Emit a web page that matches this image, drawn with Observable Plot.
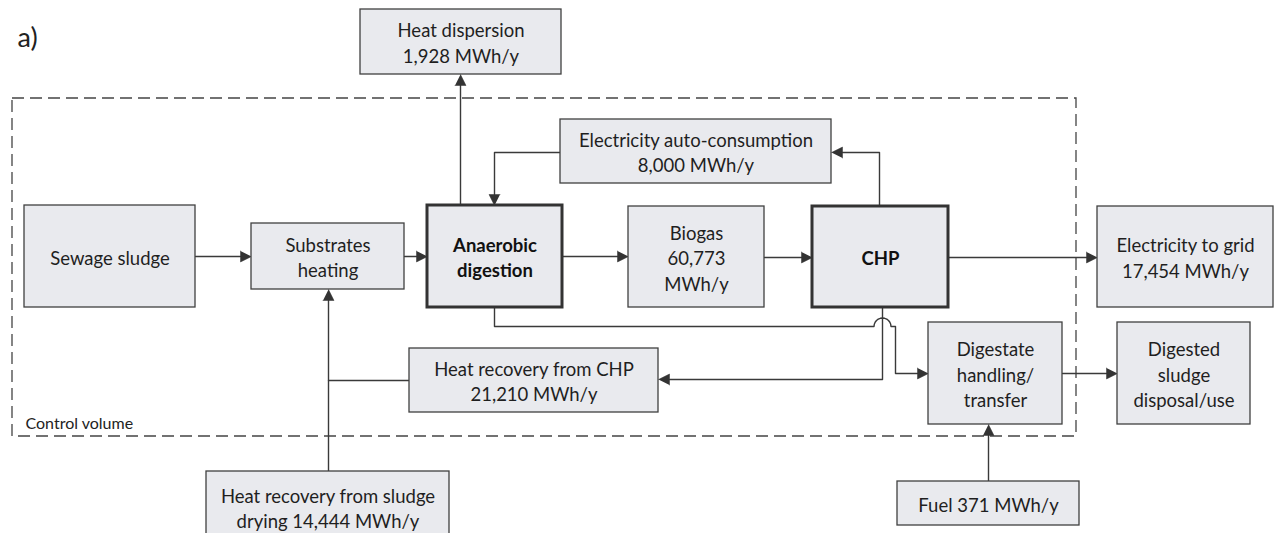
<!DOCTYPE html>
<html>
<head>
<meta charset="utf-8">
<script src="https://cdn.jsdelivr.net/npm/d3@7"></script>
<script src="https://cdn.jsdelivr.net/npm/@observablehq/plot@0.6"></script>
<style>
  html, body { margin: 0; padding: 0; background: #fff; }
  #chart svg { display: block; }
</style>
</head>
<body>
<div id="chart"></div>
<script>
// ---- Data ----
const panelLabel = "a)";
const boundaryLabel = "Control volume";
const flowNames = ["Heat dispersion", "Electricity auto-consumption", "Biogas", "Electricity to grid",
                   "Heat recovery from CHP", "Heat recovery from sludge drying", "Fuel"];
const flowValues = [1928, 8000, 60773, 17454, 21210, 14444, 371];
const unit = "MWh/y";
const processNames = ["Sewage sludge", "Substrates heating", "Anaerobic digestion", "CHP",
                      "Digestate handling/transfer", "Digested sludge disposal/use"];

const fmt = d3.format(",");
const v = name => fmt(flowValues[flowNames.indexOf(name)]) + " " + unit;

// ---- Diagram layout (pixel frame of the figure) ----
const nodes = [
  {id: "disp",  text: "Heat dispersion\n" + v("Heat dispersion"), x1: 360, x2: 561, y1: 9, y2: 74},
  {id: "auto",  text: "Electricity auto-consumption\n" + v("Electricity auto-consumption"), x1: 560, x2: 831, y1: 119, y2: 183},
  {id: "sew",   text: processNames[0], x1: 24, x2: 195, y1: 205, y2: 307},
  {id: "subs",  text: "Substrates\nheating", x1: 251, x2: 404, y1: 223, y2: 289},
  {id: "ad",    text: "Anaerobic\ndigestion", x1: 427, x2: 562, y1: 205, y2: 307, bold: true},
  {id: "bio",   text: "Biogas\n" + fmt(flowValues[2]) + "\n" + unit, x1: 628, x2: 764, y1: 206, y2: 307},
  {id: "chp",   text: processNames[3], x1: 812, x2: 948, y1: 206, y2: 307, bold: true},
  {id: "grid",  text: "Electricity to grid\n" + v("Electricity to grid"), x1: 1097, x2: 1273, y1: 206, y2: 307},
  {id: "dig",   text: "Digestate\nhandling/\ntransfer", x1: 928, x2: 1062, y1: 322, y2: 424},
  {id: "out",   text: "Digested\nsludge\ndisposal/use", x1: 1117, x2: 1250, y1: 322, y2: 424},
  {id: "hrchp", text: "Heat recovery from CHP\n" + v("Heat recovery from CHP"), x1: 409, x2: 658, y1: 348, y2: 412},
  {id: "hrsd",  text: "Heat recovery from sludge\ndrying " + v("Heat recovery from sludge drying"), x1: 206, x2: 449, y1: 471, y2: 545, ty: 507},
  {id: "fuel",  text: "Fuel " + v("Fuel"), x1: 897, x2: 1079, y1: 481, y2: 525}
];
const boundary = [{x1: 12, x2: 1076, y1: 98, y2: 436}];

// jump-over arc where the digestate line crosses the CHP heat line
const jump = d3.range(0, 13).map(i => {
  const a = Math.PI - (Math.PI * i) / 12;
  return [882 + 8.5 * Math.cos(a), 326 - 8.5 * Math.sin(a)];
});

const edges = [
  {id: "e1",  arrow: true,  pts: [[195, 256], [251, 256]]},
  {id: "e2",  arrow: true,  pts: [[404, 256], [427, 256]]},
  {id: "e3",  arrow: true,  pts: [[562, 256], [628, 256]]},
  {id: "e4",  arrow: true,  pts: [[764, 257], [812, 257]]},
  {id: "e5",  arrow: true,  pts: [[948, 257], [1097, 257]]},
  {id: "e6",  arrow: true,  pts: [[460, 205], [460, 74]]},
  {id: "e7",  arrow: true,  pts: [[560, 152], [494, 152], [494, 205]]},
  {id: "e8",  arrow: true,  pts: [[879, 206], [879, 152], [831, 152]]},
  {id: "e9",  arrow: true,  pts: [[882, 307], [882, 379], [658, 379]]},
  {id: "e10", arrow: true,  pts: [[494, 307], [494, 326], ...jump, [895, 326], [895, 373], [928, 373]]},
  {id: "e11", arrow: false, pts: [[409, 380], [328, 380]]},
  {id: "e12", arrow: true,  pts: [[328, 471], [328, 289]]},
  {id: "e13", arrow: true,  pts: [[1062, 373], [1117, 373]]},
  {id: "e14", arrow: true,  pts: [[988, 481], [988, 424]]}
];

// build line segments (shortened at arrow tips) and filled arrowheads
const AL = 11, AW = 5.5;
const linePts = [], headPts = [];
for (const e of edges) {
  const p = e.pts.map(d => d.slice());
  if (e.arrow) {
    const [tx, ty] = p[p.length - 1], [sx, sy] = p[p.length - 2];
    const len = Math.hypot(tx - sx, ty - sy), ux = (tx - sx) / len, uy = (ty - sy) / len;
    const bx = tx - ux * AL, by = ty - uy * AL;
    p[p.length - 1] = [bx, by];
    headPts.push({id: e.id, x: tx, y: ty}, {id: e.id, x: bx - uy * AW, y: by + ux * AW},
                 {id: e.id, x: bx + uy * AW, y: by - ux * AW});
  }
  p.forEach(([x, y]) => linePts.push({id: e.id, x, y}));
}

const FONT = "Lato, 'Open Sans', sans-serif";
const FS = 18.5, LH = 25.5 / 18.5;
const cx = d => (d.x1 + d.x2) / 2;
const cy = d => d.ty ?? (d.y1 + d.y2) / 2;

const chart = Plot.plot({
  width: 1274,
  height: 533,
  margin: 0,
  x: {domain: [0, 1274], range: [0, 1274], axis: null},
  y: {domain: [0, 533], range: [0, 533], axis: null},
  style: {fontFamily: FONT, background: "#fff"},
  marks: [
    Plot.rect(boundary, {x1: "x1", x2: "x2", y1: "y1", y2: "y2", fill: "none", stroke: "#444", strokeWidth: 1.3, strokeDasharray: "12,6"}),
    Plot.line(linePts, {x: "x", y: "y", z: "id", stroke: "#3a3a3a", strokeWidth: 1.4}),
    Plot.line(headPts, {x: "x", y: "y", z: "id", fill: "#333", stroke: "#333", strokeWidth: 0.5}),
    Plot.rect(nodes.filter(d => !d.bold), {x1: "x1", x2: "x2", y1: "y1", y2: "y2", fill: "#e9eaee", stroke: "#404040", strokeWidth: 1.3}),
    Plot.rect(nodes.filter(d => d.bold), {x1: "x1", x2: "x2", y1: "y1", y2: "y2", fill: "#e9eaee", stroke: "#333", strokeWidth: 3}),
    Plot.text(nodes.filter(d => !d.bold), {x: cx, y: cy, text: "text", fontSize: FS, lineHeight: LH, fill: "#1f1f1f", fontFamily: FONT}),
    Plot.text(nodes.filter(d => d.bold), {x: cx, y: cy, text: "text", fontSize: FS, lineHeight: LH, fill: "#111", fontWeight: "bold", fontFamily: FONT}),
    Plot.text([panelLabel], {x: () => 17, y: () => 38, text: d => d, fontSize: 27, textAnchor: "start", fill: "#222", fontFamily: FONT}),
    Plot.text([boundaryLabel], {x: () => 25, y: () => 423, text: d => d, fontSize: 16, textAnchor: "start", fill: "#222", fontFamily: FONT})
  ]
});
document.getElementById("chart").appendChild(chart);
</script>
</body>
</html>
